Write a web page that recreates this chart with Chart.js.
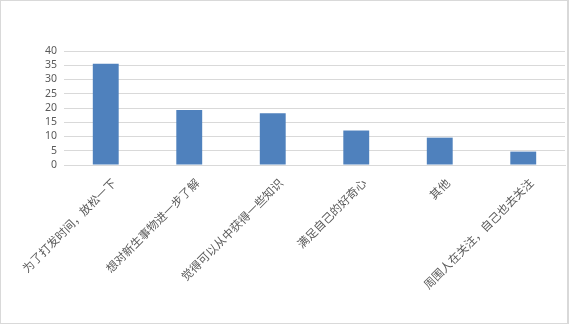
<!DOCTYPE html>
<html>
<head>
<meta charset="utf-8">
<script src="https://cdn.jsdelivr.net/npm/chart.js@4/dist/chart.umd.min.js"></script>
<style>
  html, body { margin: 0; padding: 0; background: #fff; }
  #wrap { position: relative; width: 569px; height: 324px; box-sizing: border-box; border: 1px solid #d9d9d9; border-right-width: 2px; }
  canvas { display: block; }
</style>
</head>
<body>
<div id="wrap"><canvas id="chart"></canvas></div>
<script>
// 数据
const categories = [
  '为了打发时间，放松一下',
  '想对新生事物进一步了解',
  '觉得可以从中获得一些知识',
  '满足自己的好奇心',
  '其他',
  '周围人在关注，自己也去关注'
];
const values = [35.5, 19.3, 18.2, 12.1, 9.6, 4.7];
const yTicks = [0, 5, 10, 15, 20, 25, 30, 35, 40];

const barColor = '#4F81BD';
const gridColor = '#d9d9d9';
const textColor = '#595959';

const ctx = document.getElementById('chart').getContext('2d');
new Chart(ctx, {
  type: 'bar',
  data: {
    labels: categories,
    datasets: [{
      data: values,
      backgroundColor: barColor,
      borderWidth: 0,
      barPercentage: 0.31,
      categoryPercentage: 1
    }]
  },
  options: {
    responsive: true,
    maintainAspectRatio: false,
    animation: false,
    layout: { padding: { top: 50, right: 2, bottom: 0, left: 0 } },
    plugins: { legend: { display: false }, tooltip: { enabled: false } },
    scales: {
      x: {
        grid: { display: false, drawTicks: false },
        border: { color: gridColor, width: 1 },
        ticks: {
          color: textColor,
          font: { family: '"Noto Sans CJK SC"', size: 11.5 },
          minRotation: 45,
          maxRotation: 45,
          autoSkip: false,
          labelOffset: 8,
          padding: 11
        },
        afterFit: (axis) => {
          axis.height = 158;
          axis.paddingLeft = 0;
          axis.paddingRight = 0;
        }
      },
      y: {
        min: 0,
        max: 40,
        afterBuildTicks: (axis) => { axis.ticks = yTicks.map(v => ({ value: v })); },
        grid: { color: gridColor, drawTicks: false },
        border: { display: false },
        ticks: {
          color: textColor,
          font: { family: '"Noto Sans"', size: 10.5 },
          autoSkip: false,
          padding: 7
        },
        afterFit: (axis) => { axis.width = 63; }
      }
    }
  }
});
</script>
</body>
</html>
